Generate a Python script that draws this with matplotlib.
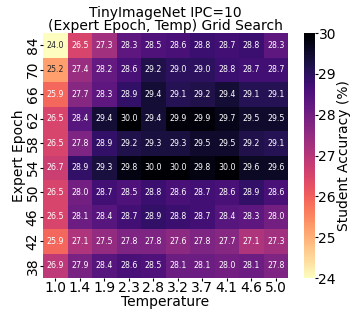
import numpy as np
import matplotlib
matplotlib.use("Agg")
import matplotlib.pyplot as plt
import seaborn as sns

epochs = [84, 70, 66, 62, 58, 54, 50, 46, 42, 38]
temps = ["1.0", "1.4", "1.9", "2.3", "2.8", "3.2", "3.7", "4.1", "4.6", "5.0"]

acc_84 = [24.0, 26.5, 27.3, 28.3, 28.5, 28.6, 28.8, 28.7, 28.8, 28.3]
acc_70 = [25.2, 27.4, 28.2, 28.6, 29.2, 29.0, 29.0, 28.8, 28.7, 28.7]
acc_66 = [25.9, 27.7, 28.3, 28.9, 29.4, 29.1, 29.2, 29.4, 29.1, 29.1]
acc_62 = [26.5, 28.4, 29.4, 30.0, 29.4, 29.9, 29.9, 29.7, 29.5, 29.5]
acc_58 = [26.5, 27.8, 28.9, 29.2, 29.3, 29.3, 29.5, 29.5, 29.2, 29.1]
acc_54 = [26.7, 28.9, 29.3, 29.8, 30.0, 30.0, 29.8, 30.0, 29.6, 29.6]
acc_50 = [26.5, 28.0, 28.7, 28.5, 28.8, 28.6, 28.7, 28.6, 28.9, 28.6]
acc_46 = [26.5, 28.1, 28.4, 28.7, 28.9, 28.8, 28.7, 28.4, 28.3, 28.0]
acc_42 = [25.9, 27.1, 27.5, 27.8, 27.8, 27.6, 27.8, 27.7, 27.1, 27.3]
acc_38 = [26.9, 27.9, 28.4, 28.6, 28.5, 28.1, 28.1, 28.0, 28.1, 27.8]

grid = np.array([acc_84, acc_70, acc_66, acc_62, acc_58,
                 acc_54, acc_50, acc_46, acc_42, acc_38])

fig = plt.figure(figsize=(3.52, 3.12), dpi=100)
ax = fig.add_axes([43 / 352, 1 - 278 / 312, 245 / 352, 245 / 312])
cax = fig.add_axes([304 / 352, 1 - 278 / 312, 11 / 352, 245 / 312])

sns.heatmap(grid, ax=ax, cbar_ax=cax, cmap="magma_r", vmin=24, vmax=30,
            annot=True, fmt=".1f", annot_kws={"fontsize": 5.7},
            xticklabels=temps, yticklabels=epochs)

ax.set_xlabel("Temperature", fontsize=10, labelpad=0)
ax.set_ylabel("Expert Epoch", fontsize=10, labelpad=0)
ax.tick_params(axis="both", labelsize=10, pad=0.5, length=2)
ax.set_yticklabels(epochs, rotation=90, va="center")
ax.set_xticklabels(temps, rotation=0)
ax.set_title("TinyImageNet IPC=10\n(Expert Epoch, Temp) Grid Search",
             fontsize=10, pad=1, linespacing=0.9)

cax.tick_params(labelsize=10, pad=0.5, length=2)
cax.set_ylabel("Student Accuracy (%)", fontsize=10, labelpad=0.5)

fig.savefig("out.png", dpi=100)
